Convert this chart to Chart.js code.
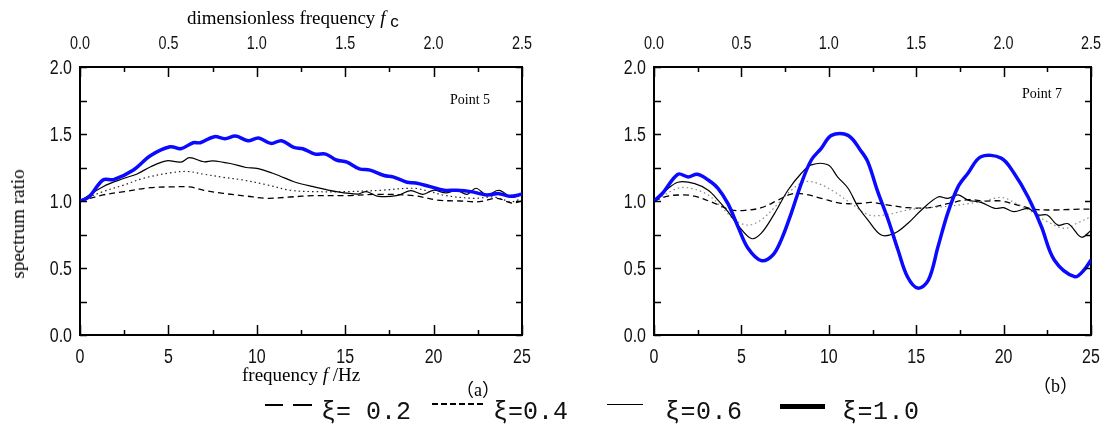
<!DOCTYPE html>
<html>
<head>
<meta charset="utf-8">
<script src="https://cdn.jsdelivr.net/npm/chart.js@4.4.1/dist/chart.umd.min.js"></script>
<style>
  html, body { margin: 0; padding: 0; background: #fff; }
  body { width: 1102px; height: 426px; position: relative; overflow: hidden; }
  canvas { position: absolute; top: 0; }
  #cA { left: 0; }
  #cB { left: 580px; }
  .txt { position: absolute; white-space: nowrap; color: #000; font-family: "Liberation Serif", "Times New Roman", serif; }
  .leg { position: absolute; white-space: nowrap; color: #111; font-family: "Liberation Mono", "DejaVu Sans Mono", monospace; font-size: 25px; line-height: 25px; }
  .sample { position: absolute; border-top-color: #000; border-top-style: solid; height: 0; }
</style>
</head>
<body>
<canvas id="cA" width="560" height="380"></canvas>
<canvas id="cB" width="540" height="380"></canvas>

<div class="txt" style="left:187px; top:7px; font-size:19px;">dimensionless frequency <i>f</i><span style="font-size:17px; position:relative; top:3px; font-family:'Liberation Sans', sans-serif;"> c</span></div>
<div class="txt" style="left:18px; top:224px; font-size:19px; transform: translate(-50%, -50%) rotate(-90deg);">spectrum ratio</div>
<div class="txt" style="left:242px; top:364px; font-size:19px;">frequency <i>f</i> /Hz</div>
<div class="txt" style="left:450px; top:92px; font-size:14px;">Point 5</div>
<div class="txt" style="left:1022px; top:86px; font-size:14px;">Point 7</div>
<div class="txt" style="left:456px; top:375px; font-size:18px; font-family:'Noto Sans CJK SC', 'Liberation Serif', serif;">（<span style="font-family:'Liberation Serif', serif;">a</span>）</div>
<div class="txt" style="left:1033px; top:371px; font-size:18px; font-family:'Noto Sans CJK SC', 'Liberation Serif', serif;">（<span style="font-family:'Liberation Serif', serif;">b</span>）</div>

<!-- legend row -->
<div class="sample" style="left:265px; top:404px; width:18px; border-top-width:2px;"></div>
<div class="sample" style="left:293px; top:404px; width:19px; border-top-width:2px;"></div>
<div class="leg" style="left:321px; top:400px;">ξ= 0.2</div>
<div class="sample" style="left:432px; top:403px; width:51px; border-top-width:2px; border-top-style:dashed;"></div>
<div class="leg" style="left:493px; top:400px;">ξ=0.4</div>
<div class="sample" style="left:607px; top:404px; width:36px; border-top-width:1.5px;"></div>
<div class="leg" style="left:665px; top:400px; letter-spacing:0.5px;">ξ=0.6</div>
<div class="sample" style="left:780px; top:404px; width:45px; border-top-width:5px;"></div>
<div class="leg" style="left:842px; top:400px; letter-spacing:0.5px;">ξ=1.0</div>

<script>
// spectrum ratio vs frequency (Hz), one array of [f, ratio] per damping ratio

// Point 5
const p5_xi02 = [[0,1.0],[1.3,1.045],[2.5,1.07],[4.0,1.10],[5.1,1.105],[6.2,1.105],[7.0,1.08],[8.1,1.057],[9.4,1.037],[10.6,1.02],[11.9,1.03],[13.2,1.04],[15.1,1.04],[17.0,1.05],[18.9,1.04],[20.2,1.007],[21.5,1.0],[22.6,0.995],[23.6,1.02],[24.4,0.985],[25,1.0]];
const p5_xi04 = [[0,1.0],[1.3,1.07],[2.5,1.12],[3.6,1.17],[5.1,1.21],[6.1,1.22],[7.0,1.20],[8.1,1.177],[9.2,1.157],[10.6,1.12],[11.9,1.08],[13.2,1.07],[15.1,1.07],[17.0,1.08],[18.9,1.095],[19.8,1.07],[20.7,1.04],[22.3,1.02],[23.4,1.03],[24.4,0.995],[25,1.02]];
const p5_xi06 = [[0,1.0],[1.3,1.107],[2.5,1.17],[3.2,1.2],[4.0,1.256],[4.9,1.30],[5.7,1.29],[6.2,1.323],[7.0,1.293],[7.5,1.30],[8.5,1.28],[9.4,1.25],[10.0,1.244],[10.9,1.207],[11.3,1.187],[12.1,1.144],[13.2,1.107],[14.5,1.07],[15.7,1.052],[16.2,1.07],[16.8,1.037],[17.9,1.04],[18.7,1.077],[19.4,1.05],[20.0,1.08],[20.7,1.06],[21.3,1.08],[21.9,1.05],[22.4,1.095],[23.0,1.045],[23.7,1.08],[24.4,1.03],[25,1.05]];
const p5_xi10 = [[0,1.0],[0.5,1.03],[1.3,1.157],[1.9,1.16],[3.0,1.23],[4.0,1.34],[5.1,1.405],[5.7,1.39],[6.4,1.435],[6.8,1.435],[7.6,1.48],[8.2,1.465],[8.8,1.485],[9.5,1.45],[10.1,1.47],[10.8,1.43],[11.4,1.45],[12.1,1.40],[12.6,1.39],[13.3,1.35],[13.9,1.35],[14.5,1.306],[15.1,1.29],[15.8,1.24],[16.4,1.23],[17.2,1.19],[17.7,1.18],[18.5,1.14],[19.0,1.135],[19.8,1.107],[20.6,1.08],[21.3,1.08],[22.1,1.07],[23.0,1.045],[23.7,1.055],[24.3,1.035],[25,1.05]];

// Point 7
const p7_xi02 = [[0,1.0],[0.8,1.037],[1.56,1.045],[2.3,1.037],[3.47,0.983],[4.42,0.933],[5.2,0.93],[6.14,0.95],[7.1,1.007],[7.85,1.052],[8.6,1.052],[9.57,1.02],[10.7,0.983],[11.9,0.983],[12.4,0.99],[13.4,0.97],[14.5,0.95],[15.7,0.95],[16.8,0.98],[17.96,1.01],[18.9,1.0],[19.86,1.0],[20.8,0.97],[21.8,0.938],[22.9,0.933],[24.06,0.938],[25,0.94]];
const p7_xi04 = [[0,1.0],[1.37,1.095],[2.1,1.095],[3.1,1.045],[3.85,0.957],[4.6,0.86],[5.38,0.82],[6.14,0.86],[7.1,0.98],[7.85,1.08],[8.6,1.144],[9.4,1.13],[10.3,1.07],[11.3,0.98],[12.3,0.896],[13.4,0.90],[14.5,0.933],[15.7,0.95],[16.8,0.96],[18.0,0.98],[18.9,1.0],[19.86,1.027],[20.6,0.99],[21.6,0.92],[22.5,0.846],[23.5,0.796],[24.2,0.834],[25,0.883]];
const p7_xi06 = [[0,1.0],[0.6,1.07],[1.37,1.14],[2.33,1.13],[3.1,1.08],[3.66,1.007],[4.23,0.92],[4.8,0.82],[5.57,0.72],[6.14,0.76],[6.9,0.908],[7.66,1.08],[8.43,1.207],[9.0,1.27],[9.95,1.27],[10.5,1.18],[11.1,1.095],[11.67,0.957],[12.24,0.858],[13.0,0.746],[13.77,0.76],[14.53,0.834],[15.3,0.933],[16.25,1.03],[16.8,1.02],[17.4,1.045],[17.96,1.007],[18.7,0.99],[19.5,0.945],[20.0,0.95],[20.6,0.92],[21.4,0.945],[21.96,0.896],[22.5,0.896],[23.1,0.82],[23.7,0.83],[24.45,0.73],[25,0.78]];
const p7_xi10 = [[0,1.0],[0.5,1.06],[1.37,1.20],[1.95,1.18],[2.48,1.2],[3.1,1.157],[3.66,1.095],[4.23,0.98],[4.8,0.81],[5.38,0.647],[6.14,0.555],[6.8,0.597],[7.28,0.71],[7.85,0.908],[8.43,1.132],[9.0,1.306],[9.57,1.393],[10.15,1.49],[11.1,1.49],[11.86,1.37],[12.24,1.29],[12.8,1.07],[13.4,0.858],[13.96,0.634],[14.5,0.435],[15.1,0.35],[15.7,0.41],[16.25,0.66],[16.8,0.908],[17.4,1.107],[17.96,1.207],[18.7,1.33],[19.86,1.32],[20.6,1.207],[21.4,1.03],[22.16,0.81],[22.9,0.56],[24.06,0.435],[24.6,0.485],[25,0.56]];

// axis ranges and tick steps
const freqMax = 25, freqStep = 5, freqMinor = 2.5;
const fcMax = 2.5, fcStep = 0.5, fcMinor = 0.25;
const ratioMax = 2.0, ratioStep = 0.5, ratioMinor = 0.25;

const labelFont = '"Liberation Sans", Arial, sans-serif';
const narrow = 0.8;   // squeeze factor for the condensed tick numbers

const toXY = arr => arr.map(p => ({ x: p[0], y: p[1] }));

function narrowText(ctx, text, x, y, align) {
  ctx.save();
  ctx.translate(x, y);
  ctx.scale(narrow, 1);
  ctx.textAlign = align;
  ctx.fillText(text, 0, 0);
  ctx.restore();
}

// inward ticks on all four sides plus narrow tick numbers
const innerTicks = {
  id: 'innerTicks',
  afterDraw(chart) {
    const { ctx, chartArea: a, scales } = chart;
    ctx.save();
    ctx.strokeStyle = '#000';
    ctx.lineWidth = 1.5;
    ctx.beginPath();
    for (let v = 0; v <= freqMax + 1e-9; v += freqMinor) {
      const x = Math.round(scales.x.getPixelForValue(v)) + 0.5;
      const len = Math.abs(v % freqStep) < 1e-6 ? 10 : 5;
      ctx.moveTo(x, a.bottom); ctx.lineTo(x, a.bottom - len);
    }
    for (let v = 0; v <= fcMax + 1e-9; v += fcMinor) {
      const x = Math.round(scales.x2.getPixelForValue(v)) + 0.5;
      const len = Math.abs((v / fcStep) - Math.round(v / fcStep)) < 1e-6 ? 10 : 5;
      ctx.moveTo(x, a.top); ctx.lineTo(x, a.top + len);
    }
    for (let v = 0; v <= ratioMax + 1e-9; v += ratioMinor) {
      const y = Math.round(scales.y.getPixelForValue(v)) + 0.5;
      ctx.moveTo(a.left, y); ctx.lineTo(a.left + 7, y);
      ctx.moveTo(a.right, y); ctx.lineTo(a.right - 6, y);
    }
    ctx.stroke();

    ctx.fillStyle = '#111';
    ctx.textBaseline = 'alphabetic';
    ctx.font = '20px ' + labelFont;
    scales.x.ticks.forEach(t => {
      narrowText(ctx, String(t.value), scales.x.getPixelForValue(t.value), a.bottom + 28, 'center');
    });
    scales.y.ticks.forEach(t => {
      narrowText(ctx, t.value.toFixed(1), a.left - 8, scales.y.getPixelForValue(t.value) + 7, 'right');
    });
    ctx.font = '18px ' + labelFont;
    scales.x2.ticks.forEach(t => {
      narrowText(ctx, t.value.toFixed(1), scales.x2.getPixelForValue(t.value), a.top - 18, 'center');
    });
    ctx.restore();
  }
};

function makePanel(id, series, leftWidth, rightPad, dotColor) {
  const border = { display: true, color: '#000', width: 2 };
  const hidden = { display: false };
  return new Chart(document.getElementById(id), {
    type: 'line',
    data: {
      datasets: [
        { label: 'ξ=1.0', data: toXY(series[3]), borderColor: '#0a0aff', borderWidth: 3.5, order: 0 },
        { label: 'ξ=0.6', data: toXY(series[2]), borderColor: '#000', borderWidth: 1.2, order: 1 },
        { label: 'ξ=0.4', data: toXY(series[1]), borderColor: dotColor, borderWidth: 1.2, borderDash: [1.5, 3], order: 2 },
        { label: 'ξ=0.2', data: toXY(series[0]), borderColor: '#000', borderWidth: 1.3, borderDash: [6, 4], order: 3 }
      ]
    },
    options: {
      responsive: false,
      animation: false,
      devicePixelRatio: 1,
      layout: { padding: { left: 0, right: rightPad, top: 0, bottom: 0 } },
      elements: { point: { radius: 0 }, line: { tension: 0.35, fill: false, borderCapStyle: 'butt' } },
      plugins: { legend: { display: false }, tooltip: { enabled: false } },
      scales: {
        x: {
          type: 'linear', position: 'bottom', min: 0, max: freqMax,
          grid: hidden, border, ticks: { stepSize: freqStep, display: false },
          afterFit: s => { s.height = 45; }
        },
        x2: {
          type: 'linear', position: 'top', min: 0, max: fcMax,
          grid: hidden, border, ticks: { stepSize: fcStep, display: false },
          afterFit: s => { s.height = 67; }
        },
        y: {
          type: 'linear', position: 'left', min: 0, max: ratioMax,
          grid: hidden, border, ticks: { stepSize: ratioStep, display: false },
          afterFit: s => { s.width = leftWidth; }
        },
        y2: {
          type: 'linear', position: 'right', min: 0, max: ratioMax,
          grid: hidden, border, ticks: { display: false },
          afterFit: s => { s.width = 15; }
        }
      }
    },
    plugins: [innerTicks]
  });
}

makePanel('cA', [p5_xi02, p5_xi04, p5_xi06, p5_xi10], 80, 23, '#222');
makePanel('cB', [p7_xi02, p7_xi04, p7_xi06, p7_xi10], 74, 14, '#888');
</script>
</body>
</html>
